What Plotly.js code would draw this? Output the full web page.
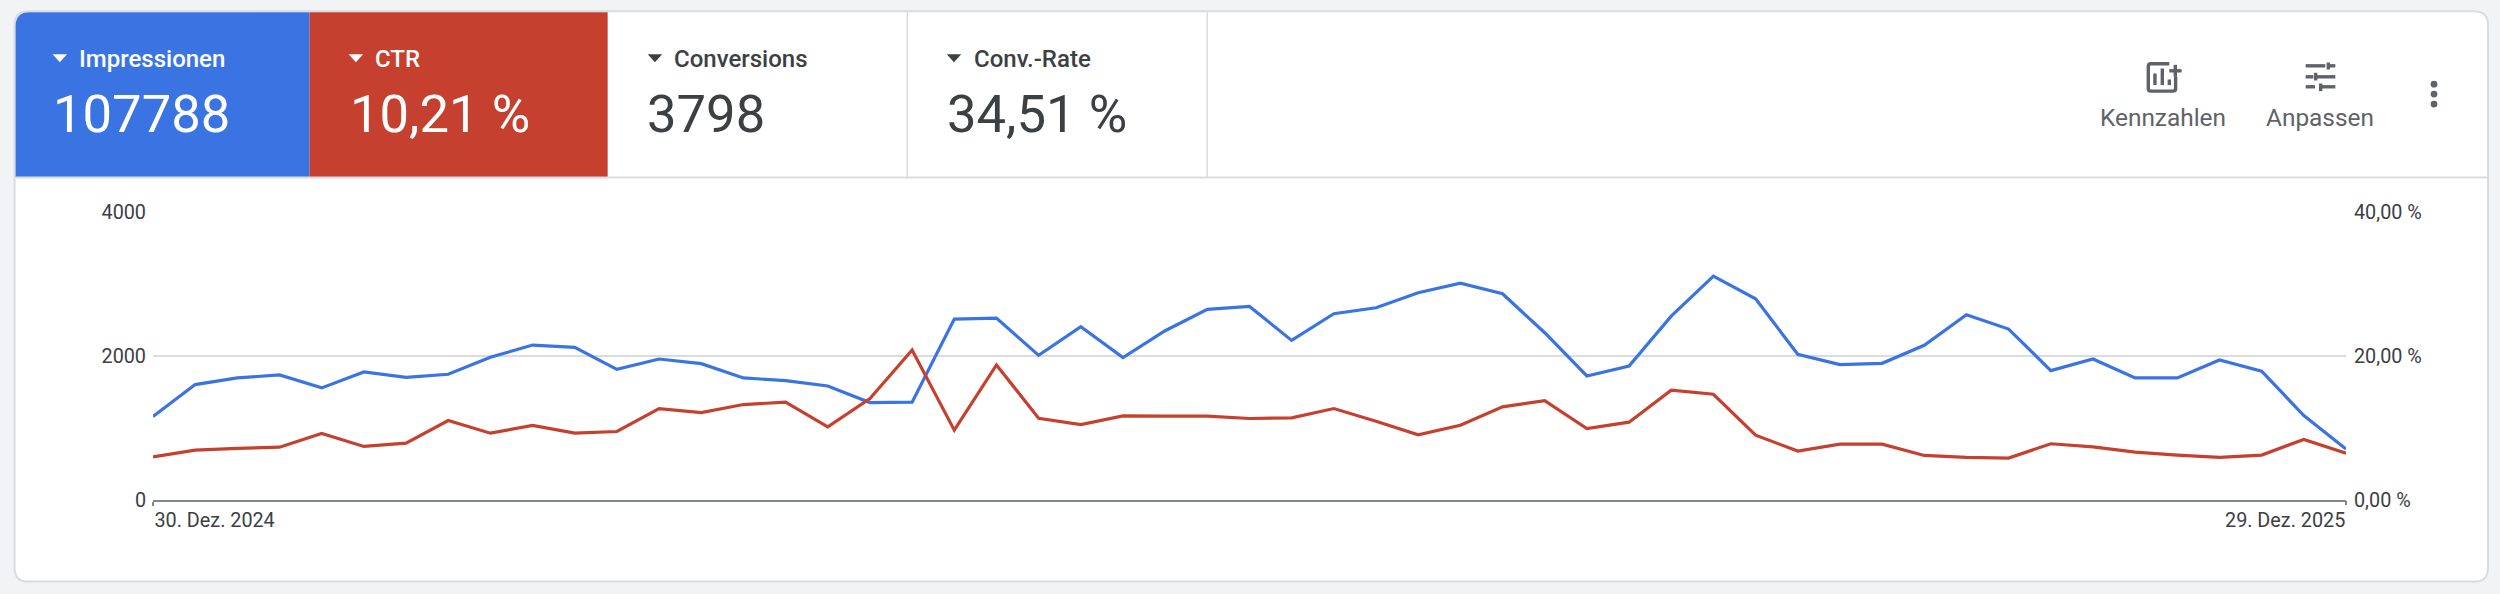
<!DOCTYPE html>
<html><head><meta charset="utf-8">
<script src="https://cdn.plot.ly/plotly-3.0.1.min.js"></script>
<style>html,body{margin:0;padding:0;background:#f1f3f4;overflow:hidden}#c{width:2500px;height:594px}</style>
</head><body><div id="c"></div>
<script>
const weeks = ['2024-12-30','2025-01-06','2025-01-13','2025-01-20','2025-01-27','2025-02-03','2025-02-10','2025-02-17','2025-02-24','2025-03-03','2025-03-10','2025-03-17','2025-03-24','2025-03-31','2025-04-07','2025-04-14','2025-04-21','2025-04-28','2025-05-05','2025-05-12','2025-05-19','2025-05-26','2025-06-02','2025-06-09','2025-06-16','2025-06-23','2025-06-30','2025-07-07','2025-07-14','2025-07-21','2025-07-28','2025-08-04','2025-08-11','2025-08-18','2025-08-25','2025-09-01','2025-09-08','2025-09-15','2025-09-22','2025-09-29','2025-10-06','2025-10-13','2025-10-20','2025-10-27','2025-11-03','2025-11-10','2025-11-17','2025-11-24','2025-12-01','2025-12-08','2025-12-15','2025-12-22','2025-12-29'];
const impressions = [1159,1603,1695,1737,1557,1778,1704,1746,1982,2152,2120,1815,1958,1894,1695,1658,1584,1353,1358,2513,2527,2009,2406,1977,2351,2647,2688,2217,2587,2670,2878,3012,2864,2323,1723,1861,2554,3109,2794,2023,1880,1898,2148,2573,2374,1797,1958,1695,1695,1945,1788,1173,707];
const ctr = [6.00,6.93,7.16,7.34,9.24,7.44,7.90,11.04,9.28,10.35,9.28,9.51,12.70,12.15,13.26,13.58,10.16,14.10,20.83,9.70,18.75,11.36,10.48,11.69,11.64,11.64,11.32,11.41,12.70,10.95,9.05,10.39,12.93,13.81,9.93,10.81,15.24,14.69,9.01,6.79,7.76,7.76,6.19,5.91,5.82,7.81,7.39,6.65,6.24,5.91,6.24,8.41,6.51];
const leftTicks = [0,2000,4000];
const rightTicks = [0,20,40];
const rightTickText = ['0,00 %','20,00 %','40,00 %'];
const metricNames = ['Impressionen','CTR','Conversions','Conv.-Rate'];
const metricValues = ['107788','10,21 %','3798','34,51 %'];
const actionNames = ['Kennzahlen','Anpassen'];

const W=2500,H=594,M={l:153.4,r:154,t:212,b:93.7};
const BLUE='#3a74e3',RED='#c6402f',DARK='#3c4043',GREY='#5f6368',RULE='#dadce0';
const pw=W-M.l-M.r,ph=H-M.t-M.b;
const X=p=>(p-M.l)/pw, Y=p=>1-(p-M.t)/ph;
const P=(x,y)=>X(x).toFixed(5)+','+Y(y).toFixed(5);
const sh=(path,fill,line,lw,layer)=>({type:'path',xref:'paper',yref:'paper',path,fillcolor:fill||'rgba(0,0,0,0)',line:{color:line||'rgba(0,0,0,0)',width:lw||0},layer:layer||'below'});
const seg=(x0,y0,x1,y1,c,lw)=>({type:'line',xref:'paper',yref:'paper',x0:X(x0),y0:Y(y0),x1:X(x1),y1:Y(y1),line:{color:c,width:lw},layer:'below'});
const zp=(x,y)=>P(2050+x/3,30+y/3);
const zs=(x0,y0,x1,y1,lw)=>seg(2050+x0/3,30+y0/3,2050+x1/3,30+y1/3,GREY,lw||3.4);

const L=15,R=2488,T=11,B=582,Rad=14;
const shapes=[
 sh(`M${P(L+Rad,T)} L${P(R-Rad,T)} Q${P(R,T)} ${P(R,T+Rad)} L${P(R,B-Rad)} Q${P(R,B)} ${P(R-Rad,B)} L${P(L+Rad,B)} Q${P(L,B)} ${P(L,B-Rad)} L${P(L,T+Rad)} Q${P(L,T)} ${P(L+Rad,T)} Z`,'#ffffff',RULE,2),
 sh(`M${P(16,177)} L${P(16,26)} Q${P(16,12)} ${P(30,12)} L${P(310,12)} L${P(310,177)} Z`,BLUE),
 sh(`M${P(310,12)} L${P(608,12)} L${P(608,177)} L${P(310,177)} Z`,RED),
 seg(907.5,12,907.5,177,RULE,1.5),
 seg(1207.5,12,1207.5,177,RULE,1.5),
 seg(16,177.5,2487,177.5,RULE,2),
];
[[53,'#ffffff'],[349,'#ffffff'],[648,DARK],[947,DARK]].forEach(([x,c])=>{
  shapes.push(sh(`M${P(x,54)} L${P(x+14.5,54)} L${P(x+7.2,62)} Z`,c));
});
shapes.push(sh(`M${zp(358,101)} L${zp(303,101)} Q${zp(295,101)} ${zp(295,109)} L${zp(295,175)} Q${zp(295,183)} ${zp(303,183)} L${zp(369,183)} Q${zp(377,183)} ${zp(377,175)} L${zp(377,140)}`,null,GREY,3.4));
shapes.push(zs(315,130,315,165),zs(337,115,337,165),zs(358,148,358,165),zs(358,122,395,122),zs(376,104,376,140));
shapes.push(zs(767,107,826,107),zs(835,97,835,118),zs(835,107,856,107),
            zs(767,140,790,140),zs(797,128,797,151),zs(797,140,856,140),
            zs(767,170,795,170),zs(812,160,812,183),zs(812,170,856,170));
[84,94,104].forEach(y=>shapes.push({type:'circle',xref:'paper',yref:'paper',x0:X(2430.6),x1:X(2437.4),y0:Y(y-3.4),y1:Y(y+3.4),fillcolor:GREY,line:{width:0},layer:'below'}));

const ann=(text,x,y,size,color,anchor,weight)=>({text,xref:'paper',yref:'paper',x:X(x),y:Y(y),xanchor:anchor||'left',yanchor:'middle',showarrow:false,borderpad:0,font:{family:'Roboto',size,color,weight:weight||400}});
const annotations=[];
const labelX=[78.5,374.5,673.5,973],valueX=[52,349.5,646.5,946.5],txt=['#ffffff','#ffffff',DARK,DARK];
metricNames.forEach((n,i)=>annotations.push(ann(n,labelX[i],59,24,txt[i],'left',500)));
metricValues.forEach((n,i)=>annotations.push(ann(n,valueX[i],114,52.6,txt[i])));
annotations.push(ann(actionNames[0],2163.5,117.5,24.4,GREY,'center'),ann(actionNames[1],2320.5,117.5,24.4,GREY,'center'));

const tickFont={family:'Roboto',size:19.8,color:DARK};
const xBase={type:'date',range:[weeks[0],weeks[weeks.length-1]],showgrid:false,zeroline:false,ticks:'outside',ticklen:4,tickwidth:1.5,tickcolor:'#80868b',tickfont:tickFont,ticklabelstandoff:2,fixedrange:true};
const data=[
 {x:weeks,y:impressions,name:'Impressionen',type:'scatter',mode:'lines',line:{color:BLUE,width:3.2},xaxis:'x',yaxis:'y',hoverinfo:'none'},
 {x:weeks,y:ctr,name:'CTR',type:'scatter',mode:'lines',line:{color:RED,width:3.2},xaxis:'x2',yaxis:'y2',hoverinfo:'none'}
];
const layout={
 width:W,height:H,margin:{l:M.l,r:M.r,t:M.t,b:M.b,pad:0},autosize:false,showlegend:false,
 paper_bgcolor:'#f1f3f4',plot_bgcolor:'rgba(0,0,0,0)',font:{family:'Roboto',color:DARK},
 xaxis:Object.assign({},xBase,{tickmode:'array',tickvals:[weeks[0]],ticktext:['30. Dez. 2024'],ticklabelposition:'outside right',showline:true,linecolor:'#80868b',linewidth:1.5}),
 xaxis2:Object.assign({},xBase,{overlaying:'x',anchor:'y2',side:'bottom',tickmode:'array',tickvals:[weeks[weeks.length-1]],ticktext:['29. Dez. 2025'],ticklabelposition:'outside left',showline:false}),
 yaxis:{range:[0,4000],tickmode:'array',tickvals:leftTicks,ticktext:leftTicks.map(String),tickfont:tickFont,gridcolor:RULE,gridwidth:1.5,zeroline:false,showline:false,ticks:'',ticklabelstandoff:6,fixedrange:true},
 yaxis2:{range:[0,40],overlaying:'y',side:'right',anchor:'x2',tickmode:'array',tickvals:rightTicks,ticktext:rightTickText,tickfont:tickFont,showgrid:false,zeroline:false,showline:false,ticks:'',ticklabelstandoff:7,fixedrange:true},
 shapes,annotations
};
Plotly.newPlot('c',data,layout,{displayModeBar:false,responsive:false,staticPlot:true});
</script></body></html>
